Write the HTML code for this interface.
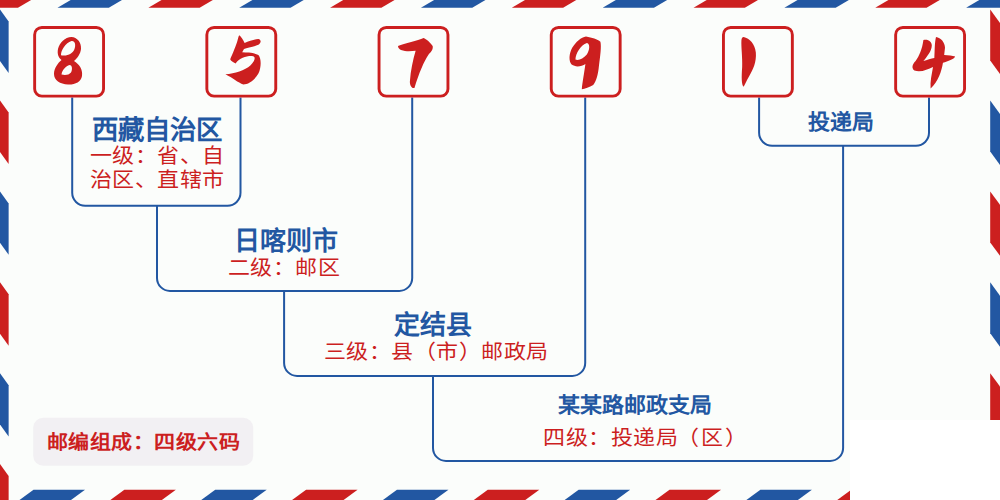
<!DOCTYPE html>
<html lang="zh-CN"><head><meta charset="utf-8">
<style>
html,body{margin:0;padding:0;}
body{width:1000px;height:500px;position:relative;overflow:hidden;background:#fbfdfb;font-family:"Liberation Sans",sans-serif;}
svg{position:absolute;left:0;top:0;}
.t{position:absolute;white-space:nowrap;text-align:center;line-height:1;}
.ti{color:#2257a2;font-weight:bold;font-size:26px;}
.su{color:#cc1f1f;font-size:22px;letter-spacing:0.5px;transform:scaleY(0.93);transform-origin:50% 50%;}
.b5{color:#2257a2;font-weight:bold;font-size:22px;}
</style></head><body>
<svg width="1000" height="500" viewBox="0 0 1000 500">
<rect x="850" y="420" width="150" height="80" fill="#ffffff"/>
<polygon fill="#cc1f1f" points="-33.36,7.65 17.94,7.65 31.14,0 -20.16,0"/>
<polygon fill="#2257a2" points="57.5,7.65 108.8,7.65 122,0 70.7,0"/>
<polygon fill="#cc1f1f" points="148.36,7.65 199.66,7.65 212.86,0 161.56,0"/>
<polygon fill="#2257a2" points="239.22,7.65 290.52,7.65 303.72,0 252.42,0"/>
<polygon fill="#cc1f1f" points="330.08,7.65 381.38,7.65 394.58,0 343.28,0"/>
<polygon fill="#2257a2" points="420.94,7.65 472.24,7.65 485.44,0 434.14,0"/>
<polygon fill="#cc1f1f" points="511.8,7.65 563.1,7.65 576.3,0 525,0"/>
<polygon fill="#2257a2" points="602.66,7.65 653.96,7.65 667.16,0 615.86,0"/>
<polygon fill="#cc1f1f" points="693.52,7.65 744.82,7.65 758.02,0 706.72,0"/>
<polygon fill="#2257a2" points="784.38,7.65 835.68,7.65 848.88,0 797.58,0"/>
<polygon fill="#cc1f1f" points="875.24,7.65 926.54,7.65 939.74,0 888.44,0"/>
<polygon fill="#2257a2" points="966.1,7.65 1017.4,7.65 1030.6,0 979.3,0"/>
<polygon fill="#2257a2" points="0,9.6 8.64,21.6 8.64,73 0,61"/>
<polygon fill="#cc1f1f" points="0,100.5 8.64,112.5 8.64,163.9 0,151.9"/>
<polygon fill="#2257a2" points="0,191.4 8.64,203.4 8.64,254.8 0,242.8"/>
<polygon fill="#cc1f1f" points="0,282.3 8.64,294.3 8.64,345.7 0,333.7"/>
<polygon fill="#2257a2" points="0,373.2 8.64,385.2 8.64,436.6 0,424.6"/>
<polygon fill="#cc1f1f" points="0,464.1 8.64,476.1 8.64,527.5 0,515.5"/>
<polygon fill="#cc1f1f" points="990.2,9.6 1000,23 1000,74 990.2,60.6"/>
<polygon fill="#2257a2" points="990.2,100.5 1000,113.9 1000,164.9 990.2,151.5"/>
<polygon fill="#cc1f1f" points="990.2,191.4 1000,204.8 1000,255.8 990.2,242.4"/>
<polygon fill="#2257a2" points="990.2,282.3 1000,295.7 1000,346.7 990.2,333.3"/>
<polygon fill="#cc1f1f" points="990.2,373.2 1000,386.6 1000,437.6 990.2,424.2"/>
<polygon fill="#2257a2" points="990.2,464.1 1000,477.5 1000,528.5 990.2,515.1"/>
<polygon fill="#2257a2" points="33.5,489.8 85,489.8 71,500 19.5,500"/>
<polygon fill="#cc1f1f" points="124.36,489.8 175.86,489.8 161.86,500 110.36,500"/>
<polygon fill="#2257a2" points="215.22,489.8 266.72,489.8 252.72,500 201.22,500"/>
<polygon fill="#cc1f1f" points="306.08,489.8 357.58,489.8 343.58,500 292.08,500"/>
<polygon fill="#2257a2" points="396.94,489.8 448.44,489.8 434.44,500 382.94,500"/>
<polygon fill="#cc1f1f" points="487.8,489.8 539.3,489.8 525.3,500 473.8,500"/>
<polygon fill="#2257a2" points="578.66,489.8 630.16,489.8 616.16,500 564.66,500"/>
<polygon fill="#cc1f1f" points="669.52,489.8 721.02,489.8 707.02,500 655.52,500"/>
<polygon fill="#2257a2" points="760.38,489.8 811.88,489.8 797.88,500 746.38,500"/>
<polygon fill="#cc1f1f" points="851.24,489.8 902.74,489.8 888.74,500 837.24,500"/>
<rect x="850" y="420" width="150" height="80" fill="#ffffff"/>
<rect x="33.2" y="417.8" width="220" height="48" rx="10" fill="#f2f0f3"/>
<path d="M72.2,97.6 V192.8 A13,13 0 0 0 85.2,205.8 H227.5 A13,13 0 0 0 240.5,192.8 V97.6" fill="none" stroke="#2257a2" stroke-width="2"/>
<path d="M157,205.8 V277.9 A13,13 0 0 0 170,290.9 H399.2 A13,13 0 0 0 412.2,277.9 V97.6" fill="none" stroke="#2257a2" stroke-width="2"/>
<path d="M284.1,290.9 V362.9 A13,13 0 0 0 297.1,375.9 H572.2 A13,13 0 0 0 585.2,362.9 V97.6" fill="none" stroke="#2257a2" stroke-width="2"/>
<path d="M433,375.9 V447.9 A13,13 0 0 0 446,460.9 H830.1 A13,13 0 0 0 843.1,447.9 V145.8" fill="none" stroke="#2257a2" stroke-width="2"/>
<path d="M759.1,97.6 V132.8 A13,13 0 0 0 772.1,145.8 H916 A13,13 0 0 0 929,132.8 V97.6" fill="none" stroke="#2257a2" stroke-width="2"/>
<rect x="34.65" y="27.45" width="68.9" height="68.7" rx="7.2" fill="none" stroke="#cc1f1f" stroke-width="2.9"/>
<rect x="206.85" y="27.45" width="68.9" height="68.7" rx="7.2" fill="none" stroke="#cc1f1f" stroke-width="2.9"/>
<rect x="379.05" y="27.45" width="68.9" height="68.7" rx="7.2" fill="none" stroke="#cc1f1f" stroke-width="2.9"/>
<rect x="551.25" y="27.45" width="68.9" height="68.7" rx="7.2" fill="none" stroke="#cc1f1f" stroke-width="2.9"/>
<rect x="723.45" y="27.45" width="68.9" height="68.7" rx="7.2" fill="none" stroke="#cc1f1f" stroke-width="2.9"/>
<rect x="895.65" y="27.45" width="68.9" height="68.7" rx="7.2" fill="none" stroke="#cc1f1f" stroke-width="2.9"/>
<g fill="#cc1f1f">
<path transform="translate(44,36) scale(0.1)" fill-rule="evenodd" d="M275,10 C330,15 375,60 370,130 C365,180 330,225 300,250 C350,280 390,330 380,400 C370,460 310,488 240,485 C160,482 100,440 100,380 C100,320 140,270 175,240 C145,215 130,180 140,130 C155,70 210,10 275,10 Z M170,190 C170,140 215,70 275,50 C310,45 320,90 305,130 C290,170 250,195 200,195 C180,195 170,195 170,190 Z M175,385 C180,340 220,300 255,290 C285,290 285,340 270,365 C250,390 210,395 175,385 Z"/>
<path transform="translate(211,31) scale(0.12)" d="M235,35 C250,45 270,75 280,100 C320,85 370,65 400,68 C420,75 418,100 395,115 C350,135 300,140 275,150 L260,178 C300,180 360,180 395,200 C420,230 420,300 395,355 C365,410 310,445 270,445 C225,430 180,390 120,360 C200,355 280,330 330,285 C365,250 375,215 350,210 C300,205 240,225 205,270 C185,260 165,250 160,235 C180,190 210,120 222,75 C228,55 230,40 235,35 Z"/>
<path transform="translate(383,31) scale(0.12)" d="M125,125 C180,100 290,80 338,58 C360,66 395,95 414,125 C420,155 398,178 380,195 C342,250 300,350 262,474 C245,482 222,455 224,420 C230,330 250,240 272,165 C230,168 190,172 150,158 C135,150 125,140 125,125 Z"/>
<path transform="translate(556,31) scale(0.12)" fill-rule="evenodd" d="M250,45 C300,55 345,65 370,90 C380,130 368,210 358,290 C350,370 335,420 310,450 C280,470 240,480 215,485 C220,430 235,350 245,275 C215,295 165,305 130,280 C105,250 108,190 135,140 C165,90 210,50 250,45 Z M162,238 C165,185 205,118 258,100 C285,105 282,160 255,198 C228,230 190,248 162,238 Z"/>
<path transform="translate(728,31) scale(0.12)" d="M130,50 C180,60 225,110 232,180 C238,260 210,320 175,380 C155,415 140,450 130,465 C112,450 112,380 118,300 C122,220 108,130 112,75 C114,60 120,50 130,50 Z"/>
<path transform="translate(900,31) scale(0.12)" d="M195,75 C235,65 265,90 265,120 C262,170 230,205 195,250 C225,242 260,232 286,226 C290,170 288,95 300,50 C340,55 375,95 375,140 L368,200 C400,203 440,205 460,212 C450,235 400,250 358,265 C345,340 320,420 255,480 C250,420 265,360 275,300 C230,318 175,350 120,330 C95,310 100,280 130,250 C160,210 185,150 195,75 Z"/>
</g>

</svg>
<div class="t ti" style="left:73px;top:117.3px;width:168px;font-size:26.4px;">西藏自治区</div>
<div class="t su" style="left:89px;top:145.4px;width:136px;">一级：省、自</div>
<div class="t su" style="left:89.4px;top:169.4px;width:136px;">治区、直辖市</div>
<div class="t ti" style="left:158.5px;top:228px;width:255px;">日喀则市</div>
<div class="t su" style="left:156.4px;top:257px;width:255px;">二级：邮区</div>
<div class="t ti" style="left:282.3px;top:311.7px;width:301px;">定结县</div>
<div class="t su" style="left:285.8px;top:341.2px;width:301px;">三级：县（市）邮政局</div>
<div class="t b5" style="left:429.6px;top:393.6px;width:410px;transform:scaleY(0.95);">某某路邮政支局</div>
<div class="t su" style="left:440px;top:427.3px;width:410px;">四级：投递局<span style="margin-left:-1px;margin-right:1.5px">（</span>区<span style="margin-left:1px">）</span></div>
<div class="t b5" style="left:755.9px;top:111.4px;width:170px;transform:scaleY(0.95);">投递局</div>
<div class="t" style="left:33.6px;top:431.7px;width:220px;color:#cc1f1f;font-weight:bold;font-size:21px;letter-spacing:0.55px;transform:scaleY(0.92);">邮编组成：四级六码</div>

</body></html>
